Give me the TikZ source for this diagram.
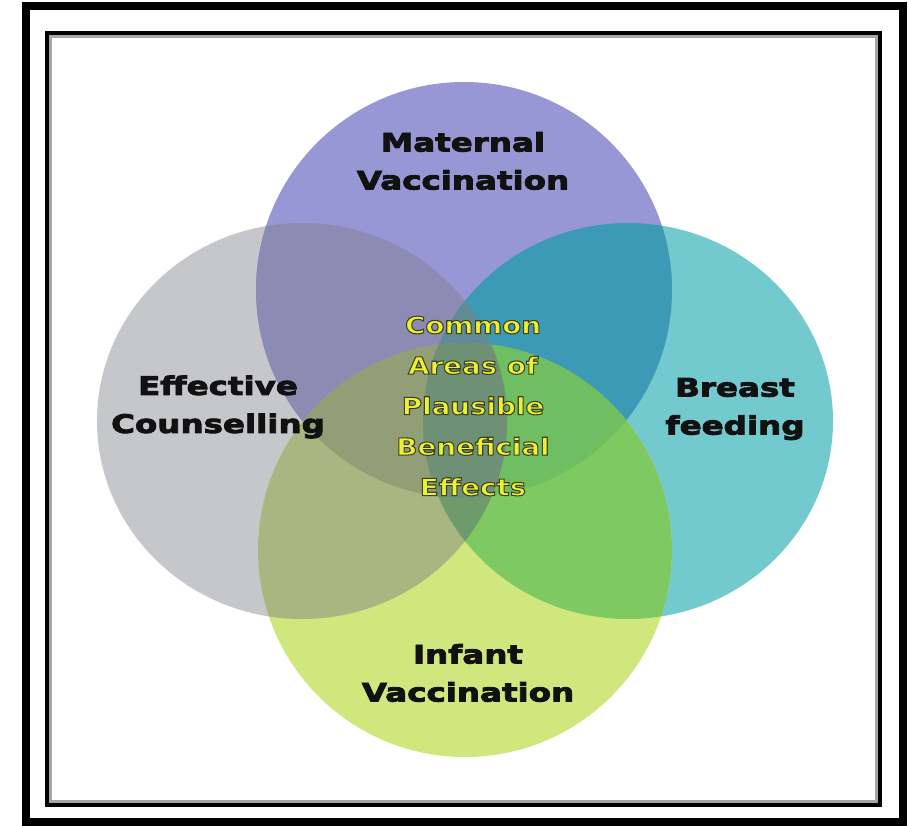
\documentclass[tikz,border=0pt]{standalone}
\usepackage{fontspec}
\usepackage{xcolor}
\newfontfamily\lblfont{DejaVu Sans Bold}[FakeStretch=1.28,FakeBold=3.5]
\newfontfamily\ctrfont{DejaVu Sans Bold}[FakeStretch=1.18,FakeBold=4.6]
\definecolor{cM}{RGB}{152,151,214}
\definecolor{cG}{RGB}{198,199,202}
\definecolor{cT}{RGB}{114,201,206}
\definecolor{cI}{RGB}{208,231,125}
\definecolor{cGM}{RGB}{139,139,179}
\definecolor{cMT}{RGB}{60,154,183}
\definecolor{cGI}{RGB}{169,182,130}
\definecolor{cTI}{RGB}{127,201,98}
\definecolor{cMI}{RGB}{130,160,120}
\definecolor{cGT}{RGB}{120,150,130}
\definecolor{cGMI}{RGB}{146,158,118}
\definecolor{cTMI}{RGB}{112,190,98}
\definecolor{cGMT}{RGB}{95,140,150}
\definecolor{cGTI}{RGB}{110,155,108}
\definecolor{cGMTI}{RGB}{110,145,118}
\definecolor{ylw}{RGB}{236,242,48}
\definecolor{lbl}{RGB}{17,17,17}
\newcommand\darkstroke{\special{pdf:literal 0.24 0.25 0.14 RG}}
\def\pM{(464,290) circle [radius=208pt]}
\def\pI{(465,550) circle [radius=207pt]}
\def\pG{(302,421) ellipse [x radius=205pt, y radius=198pt]}
\def\pT{(628,421) ellipse [x radius=205pt, y radius=198pt]}
\tikzset{
  lblstyle/.style={align=center, text=lbl, inner sep=0pt,
    font=\lblfont\fontsize{25.4}{38}\selectfont},
  ctrstyle/.style={align=center, text=ylw, inner sep=0pt,
    font=\ctrfont\fontsize{23.5}{40.5}\selectfont}
}
\begin{document}
\begin{tikzpicture}[x=1pt,y=-1pt]
\useasboundingbox (0,0) rectangle (909,825);
\fill[white] (0,0) rectangle (909,825);
% base circles
\fill[cG] \pG;
\fill[cT] \pT;
\fill[cM] \pM;
\fill[cI] \pI;
% pairs
\begin{scope}\clip \pM; \fill[cMI] \pI; \end{scope}
\begin{scope}\clip \pG; \fill[cGM] \pM; \fill[cGI] \pI; \fill[cGT] \pT; \end{scope}
\begin{scope}\clip \pT; \fill[cMT] \pM; \fill[cTI] \pI; \end{scope}
% triples
\begin{scope}\clip \pG; \clip \pM; \fill[cGMI] \pI; \fill[cGMT] \pT; \end{scope}
\begin{scope}\clip \pT; \clip \pI; \fill[cTMI] \pM; \fill[cGTI] \pG; \end{scope}
% all four
\begin{scope}\clip \pG; \clip \pM; \clip \pT; \fill[cGMTI] \pI; \end{scope}
% frames
\draw[line width=8pt] (26,6) rectangle (903,822);
\draw[black!35, line width=3pt] (50.5,36) rectangle (876.5,801);
\draw[line width=4pt] (47,32.5) rectangle (880,804.5);
% labels
\node[lblstyle] (mat) at (463,161) {Maternal\\Vaccination};
\node[lblstyle] (eff) at (218,407) {Effective\\Counselling};
\node[lblstyle] (brf) at (735,409) {Breast\\feeding};
\node[lblstyle] (inf) at (468,673) {Infant\\Vaccination};
\node[ctrstyle] (ctr) at (473,406) {\darkstroke Common\\\darkstroke Areas of\\\darkstroke Plausible\\\darkstroke Beneficial\\\darkstroke Effects};
\end{tikzpicture}
\end{document}
